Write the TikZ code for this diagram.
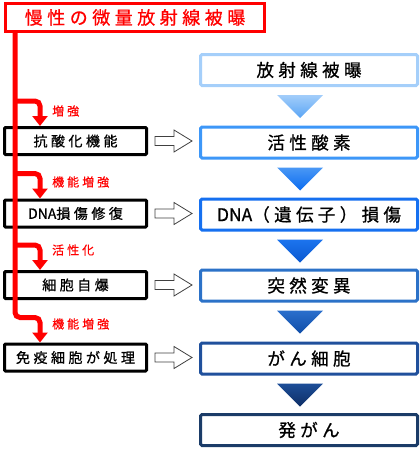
\documentclass[tikz,border=0pt]{standalone}
\usepackage{fontspec}
\usepackage{xcolor}
\usepackage{tikz}
\usetikzlibrary{calc}
\usetikzlibrary{arrows.meta}
\usetikzlibrary{positioning}
\newfontfamily\jpfont[LetterSpace=25, FakeBold=0.8]{Noto Sans CJK JP}
\newfontfamily\jplatin[FakeBold=0.8]{Noto Sans CJK JP}
\definecolor{expred}{HTML}{FF0000}
\definecolor{boxa}{HTML}{A5CFFA}
\definecolor{boxb}{HTML}{3D97F8}
\definecolor{boxc}{HTML}{1670F0}
\definecolor{boxd}{HTML}{2C72C8}
\definecolor{boxe}{HTML}{20509C}
\definecolor{boxf}{HTML}{1B3C68}
\definecolor{triat}{HTML}{A2CDFA}
\definecolor{triab}{HTML}{5AA5F5}
\definecolor{tribt}{HTML}{4A98F5}
\definecolor{tribb}{HTML}{0A6BF0}
\definecolor{trict}{HTML}{1C74EE}
\definecolor{tricb}{HTML}{0A58D0}
\definecolor{tridt}{HTML}{2B6FCC}
\definecolor{tridb}{HTML}{0F4DA8}
\definecolor{triet}{HTML}{1D4E98}
\definecolor{trieb}{HTML}{0E2E66}
\tikzset{>=latex}
\tikzstyle{redbox} = [draw = expred, line width = 3pt, minimum width = 259pt, minimum height = 28pt, inner sep = 0, text = expred, font = \jpfont\fontsize{18}{21}\selectfont]
\tikzstyle{leftbox} = [draw = black, line width = 3pt, minimum width = 142pt, minimum height = 27pt, inner sep = 0, rounded corners = 1pt, fill = white, font = \jpfont\fontsize{14}{16}\selectfont]
\tikzstyle{stepbox} = [line width = 3pt, minimum width = 217pt, minimum height = 31pt, inner sep = 0, rounded corners = 1.5pt, fill = white, font = \jpfont\fontsize{17.5}{20}\selectfont]
\tikzstyle{redline} = [draw = expred, line width = 5pt, rounded corners = 5pt, -{Triangle[width = 15pt, length = 10pt]}]
\tikzstyle{redlabel} = [text = expred, anchor = west, inner sep = 0, font = \jpfont\fontsize{12}{14}\selectfont]
\tikzstyle{hollow} = [draw = black!75, fill = white, line width = 0.8pt, line join = miter]

\begin{document}
\begin{tikzpicture}[x = 1pt, y = -1pt]
\useasboundingbox (0, 0) rectangle (420, 450);
\coordinate (trunk) at (15, 0);
\coordinate (drop) at (40, 0);
\coordinate (tx) at (300, 0);

% top label
\node [redbox] (top) at (135, 17.5) {慢性の微量放射線被曝};

% chain on the right
\node [stepbox, draw = boxa] (R0) at (309, 70) {放射線被曝};
\node [stepbox, draw = boxb] (R1) at (309, 142.5) {活性酸素};
\node [stepbox, draw = boxc] (R2) at (309, 214.5) {{\jplatin DNA}（遺伝子）損傷};
\node [stepbox, draw = boxd] (R3) at (309, 285.5) {突然変異};
\node [stepbox, draw = boxe] (R4) at (309, 358.5) {がん細胞};
\node [stepbox, draw = boxf] (R5) at (309, 430) {発がん};

% defences on the left
\node [leftbox] (L1) at (75.5, 141) {抗酸化機能};
\node [leftbox] (L2) at (75.5, 213.5) {{\jplatin DNA}損傷修復};
\node [leftbox] (L3) at (75.5, 285) {細胞自爆};
\node [leftbox] (L4) at (75.5, 357.5) {免疫細胞が処理};

\foreach \a/\b/\ct/\cb in {R0/R1/triat/triab, R1/R2/tribt/tribb, R2/R3/trict/tricb, R3/R4/tridt/tridb, R4/R5/triet/trieb}
  \shade [top color = \ct, bottom color = \cb] ($(\a.south -| tx) + (-23, 8)$) -- ++(46, 0) -- ++(-23, 23) -- cycle;

\foreach \l/\r in {L1/R1, L2/R2, L3/R3, L4/R4}
  \draw [hollow] ($(\l.east) + (7, -4.5)$) -- ++(19, 0) -- ++(0, -6.5) -- ++(18, 11) -- ++(-18, 11) -- ++(0, -6.5) -- ++(-19, 0) -- cycle;

% red influence lines
\draw [redline] (top.south -| trunk) -- ($(L4.north -| trunk) + (0, -25)$) -- ($(L4.north -| drop) + (0, -25)$) -- (L4.north -| drop);
\draw [redline] ($(L1.north -| trunk) + (0, -25)$) -- ($(L1.north -| drop) + (0, -25)$) -- (L1.north -| drop);
\draw [redline] ($(L2.north -| trunk) + (0, -25)$) -- ($(L2.north -| drop) + (0, -25)$) -- (L2.north -| drop);
\draw [redline] ($(L3.north -| trunk) + (0, -25)$) -- ($(L3.north -| drop) + (0, -25)$) -- (L3.north -| drop);

\node [redlabel] (g1) at (52, 111) {増強};
\node [redlabel] (g2) at (52, 182) {機能増強};
\node [redlabel] (g3) at (52, 250) {活性化};
\node [redlabel] (g4) at (52, 324) {機能増強};
\end{tikzpicture}
\end{document}
